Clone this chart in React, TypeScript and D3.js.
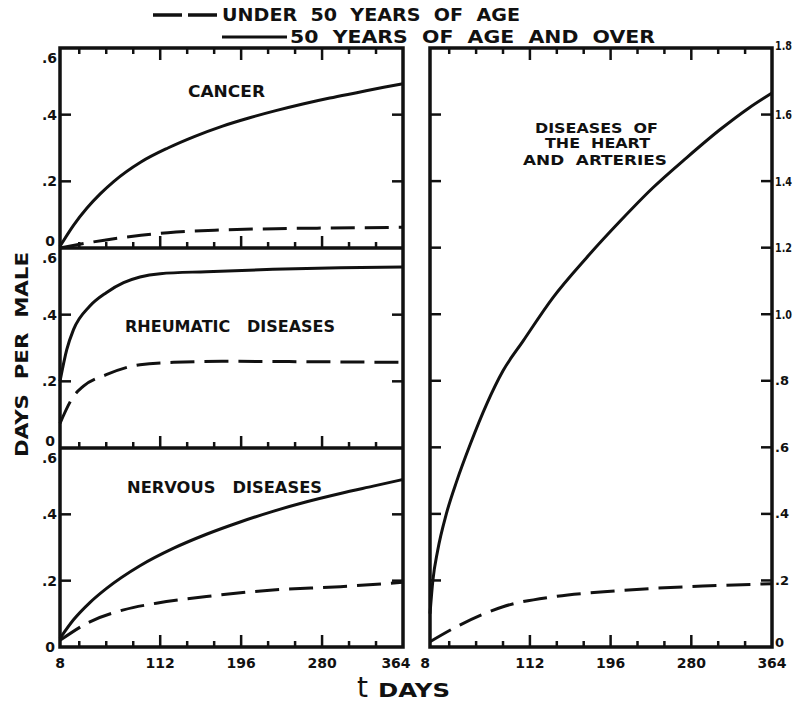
import React from 'react';
import * as d3 from 'd3';

// [day, days per male]
const cancerUnder = [[8, 0.0], [36, 0.015], [64, 0.028], [92, 0.038], [120, 0.046], [176, 0.054], [232, 0.058], [288, 0.06], [364, 0.062]];
const cancerOver = [[8, 0.005], [22, 0.068], [36, 0.12], [50, 0.163], [64, 0.2], [92, 0.258], [120, 0.3], [148, 0.335], [176, 0.365], [204, 0.39], [232, 0.412], [260, 0.432], [288, 0.45], [316, 0.466], [344, 0.482], [364, 0.493]];
const rheumUnder = [[8, 0.074], [22, 0.155], [32, 0.185], [56, 0.22], [91, 0.25], [126, 0.257], [180, 0.26], [260, 0.259], [364, 0.257]];
const rheumOver = [[8, 0.2], [15, 0.295], [22, 0.355], [39, 0.426], [56, 0.466], [74, 0.496], [91, 0.513], [112, 0.523], [160, 0.529], [229, 0.536], [299, 0.541], [364, 0.543]];
const nervUnder = [[8, 0.02], [39, 0.076], [74, 0.112], [108, 0.132], [160, 0.152], [229, 0.172], [299, 0.182], [364, 0.195]];
const nervOver = [[8, 0.026], [22, 0.082], [39, 0.134], [56, 0.176], [91, 0.245], [126, 0.298], [160, 0.34], [195, 0.377], [229, 0.409], [264, 0.438], [299, 0.463], [333, 0.485], [364, 0.505]];
const heartUnder = [[8, 0.016], [39, 0.066], [84, 0.121], [136, 0.151], [189, 0.166], [240, 0.176], [292, 0.183], [364, 0.19]];
const heartOver = [[8, 0.1], [11, 0.2], [16, 0.29], [25, 0.4], [36, 0.5], [50, 0.61], [67, 0.73], [84, 0.83], [105, 0.92], [136, 1.05], [171, 1.17], [206, 1.28], [240, 1.38], [275, 1.47], [310, 1.555], [340, 1.62], [364, 1.665]];

const xLabels = [8, 112, 196, 280, 364];
const xMajor = [112, 196, 280];
const xMinor = [28, 56, 84, 140, 168, 224, 252, 308, 336];
const leftTicks = [0.2, 0.4];
const rightTicks = [0.2, 0.4, 0.6, 0.8, 1.0, 1.2, 1.4, 1.6];
const rightLabels = ['0', '.2', '.4', '.6', '.8', '1.0', '1.2', '1.4', '1.6', '1.8'];

const FONT = 'DejaVu Sans, Arial, sans-serif';
const INK = '#111';

const xl = d3.scaleLinear().domain([8, 364]).range([60, 403]);
const xr = d3.scaleLinear().domain([8, 364]).range([430, 772]);
const yCancer = d3.scaleLinear().domain([0, 0.6]).range([248, 48]);
const yRheum = d3.scaleLinear().domain([0, 0.6]).range([448, 248]);
const yNerv = d3.scaleLinear().domain([0, 0.6]).range([647, 448]);
const yHeart = d3.scaleLinear().domain([0, 1.8]).range([647, 48]);

const path = (data, x, y) =>
  d3.line().x(d => x(d[0])).y(d => y(d[1])).curve(d3.curveMonotoneX)(data);

const Curve = ({ data, x, y, dashed }) => (
  <path d={path(data, x, y)} fill="none" stroke={INK} strokeWidth={3}
        strokeDasharray={dashed ? '24 10' : undefined} strokeLinecap="butt" />
);

// inward x ticks; dir = -1 up from a bottom edge, +1 down from a top edge
const XTicks = ({ x, y0, dir }) => (
  <g stroke={INK} strokeWidth={2.5}>
    {xMajor.map(d => <line key={'M' + d} x1={x(d)} x2={x(d)} y1={y0} y2={y0 + dir * 12} />)}
    {xMinor.map(d => <line key={'m' + d} x1={x(d)} x2={x(d)} y1={y0} y2={y0 + dir * 6} />)}
  </g>
);

const YTicks = ({ vals, y, xa, xb }) => (
  <g stroke={INK} strokeWidth={2.5}>
    {vals.map(v => (
      <g key={v}>
        <line x1={xa} x2={xa + 11} y1={y(v)} y2={y(v)} />
        <line x1={xb} x2={xb - 11} y1={y(v)} y2={y(v)} />
      </g>
    ))}
  </g>
);

const LeftLabels = ({ y, last }) => (
  <g fontFamily={FONT} fontWeight="bold" fontSize={14} fill={INK} textAnchor="end">
    <text x={57} y={y(0.6) + 15}>.6</text>
    <text x={57} y={y(0.4)} dominantBaseline="central">.4</text>
    <text x={57} y={y(0.2)} dominantBaseline="central">.2</text>
    <text x={55} y={last ? y(0) : y(0) - 2} dominantBaseline={last ? 'central' : 'auto'}>0</text>
  </g>
);

const Txt = ({ x, y, w, size, children }) => (
  <text x={x} y={y} textLength={w} lengthAdjust="spacingAndGlyphs" fontFamily={FONT}
        fontWeight="bold" fontSize={size} fill={INK} style={{ whiteSpace: 'pre' }}>
    {children}
  </text>
);

export default function App() {
  return (
    <svg width={798} height={706} style={{ position: 'absolute', left: 0, top: 0, background: '#fff' }}>
      <rect width={798} height={706} fill="#fff" />

      {/* legend */}
      <line x1={153} x2={218} y1={15} y2={15} stroke={INK} strokeWidth={3.5} strokeDasharray="29 6" />
      <Txt x={222} y={21} w={298} size={18}>UNDER  50  YEARS  OF  AGE</Txt>
      <line x1={222} x2={287} y1={37} y2={37} stroke={INK} strokeWidth={3} />
      <Txt x={290} y={43} w={365} size={18}>50  YEARS  OF  AGE  AND  OVER</Txt>

      {/* frames */}
      <g fill="none" stroke={INK} strokeWidth={3.5}>
        <rect x={60} y={48} width={343} height={599} />
        <line x1={60} x2={403} y1={248} y2={248} />
        <line x1={60} x2={403} y1={448} y2={448} />
        <rect x={430} y={48} width={342} height={599} />
      </g>

      <XTicks x={xl} y0={48} dir={1} />
      <XTicks x={xl} y0={248} dir={-1} />
      <XTicks x={xl} y0={448} dir={-1} />
      <XTicks x={xl} y0={647} dir={-1} />
      <XTicks x={xr} y0={48} dir={1} />
      <XTicks x={xr} y0={647} dir={-1} />

      <YTicks vals={leftTicks} y={yCancer} xa={60} xb={403} />
      <YTicks vals={leftTicks} y={yRheum} xa={60} xb={403} />
      <YTicks vals={leftTicks} y={yNerv} xa={60} xb={403} />
      <YTicks vals={rightTicks} y={yHeart} xa={430} xb={772} />

      <LeftLabels y={yCancer} />
      <LeftLabels y={yRheum} />
      <LeftLabels y={yNerv} last />

      <g fontFamily={FONT} fontWeight="bold" fontSize={13} fill={INK}>
        {rightLabels.map((t, i) => (
          <text key={t} x={775} y={i === 9 ? 45 : i === 0 ? yHeart(0) - 5 : yHeart(i * 0.2)}
                dominantBaseline="central" textLength={t.length === 3 ? 17 : undefined}
                lengthAdjust="spacingAndGlyphs">{t}</text>
        ))}
      </g>
      <g fontFamily={FONT} fontWeight="bold" fontSize={14} fill={INK}>
        {xLabels.map(d => (
          <text key={'l' + d} x={d === 364 ? xl(d) - 7 : xl(d)} y={668} textAnchor="middle">{d}</text>
        ))}
        {xLabels.map(d => (
          <text key={'r' + d} x={d === 8 ? xr(d) - 5 : xr(d)} y={668} textAnchor="middle">{d}</text>
        ))}
      </g>

      {/* curves */}
      <Curve data={cancerOver} x={xl} y={yCancer} />
      <Curve data={cancerUnder} x={xl} y={yCancer} dashed />
      <Curve data={rheumOver} x={xl} y={yRheum} />
      <Curve data={rheumUnder} x={xl} y={yRheum} dashed />
      <Curve data={nervOver} x={xl} y={yNerv} />
      <Curve data={nervUnder} x={xl} y={yNerv} dashed />
      <Curve data={heartOver} x={xr} y={yHeart} />
      <Curve data={heartUnder} x={xr} y={yHeart} dashed />

      {/* panel titles */}
      <Txt x={188} y={97} w={77} size={15}>CANCER</Txt>
      <Txt x={125} y={332} w={210} size={15}>RHEUMATIC   DISEASES</Txt>
      <Txt x={127} y={493} w={195} size={15}>NERVOUS   DISEASES</Txt>
      <Txt x={535} y={133} w={123} size={14}>DISEASES  OF</Txt>
      <Txt x={545} y={148} w={105} size={14}>THE  HEART</Txt>
      <Txt x={523} y={165} w={144} size={14}>AND  ARTERIES</Txt>

      {/* axis titles */}
      <g transform="translate(28,355) rotate(-90)">
        <text x={-102} y={0} textLength={205} lengthAdjust="spacingAndGlyphs" fontFamily={FONT}
              fontWeight="bold" fontSize={18} fill={INK} style={{ whiteSpace: 'pre' }}>DAYS  PER  MALE</text>
      </g>
      <text x={357} y={697} fontFamily={FONT} fontSize={28} fill={INK}>t</text>
      <Txt x={378} y={697} w={72} size={19}>DAYS</Txt>
    </svg>
  );
}
